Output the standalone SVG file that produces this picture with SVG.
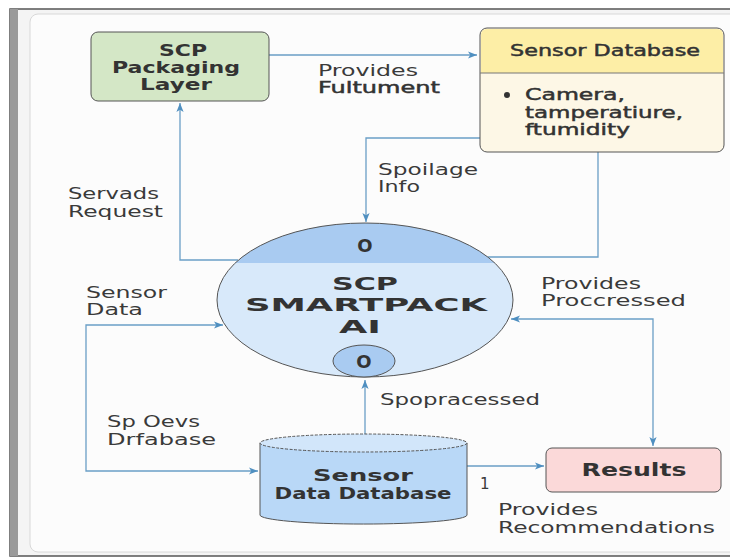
<svg xmlns="http://www.w3.org/2000/svg" width="730" height="560" viewBox="0 0 730 560">
<defs>
<style>
.lbl{font-family:"DejaVu Sans","Open Sans",sans-serif;font-size:15px;fill:#3a3a3a}
.sb{font-family:"DejaVu Sans","Open Sans",sans-serif;font-size:15px;fill:#333;stroke:#333;stroke-width:0.45}
.b{font-family:"DejaVu Sans","Open Sans",sans-serif;font-weight:bold;fill:#333}
.conn{fill:none;stroke:#6a9ec6;stroke-width:1.3}
.node{stroke:#555;stroke-width:1}
</style>
<marker id="ah" viewBox="0 0 10 10" refX="10" refY="5" markerWidth="9" markerHeight="9" markerUnits="userSpaceOnUse" orient="auto-start-reverse">
<path d="M0,1 L10,5 L0,9 L2.5,5 Z" fill="#4f8fc0"/>
</marker>
<clipPath id="ec"><ellipse cx="365" cy="300" rx="148" ry="77"/></clipPath>
</defs>

<!-- frame -->
<rect x="0" y="0" width="730" height="560" fill="#ffffff"/>
<rect x="10" y="9" width="730" height="547" fill="#f4f4f4" stroke="#555" stroke-width="1.5"/>
<rect x="10" y="9" width="8" height="547" fill="#9a9a9a"/>
<rect x="30" y="14" width="720" height="538" rx="8" fill="#fcfcfc" stroke="#d8d8d8" stroke-width="1"/>

<g id="connectors">
<path class="conn" d="M269,55 H477" marker-end="url(#ah)"/>
<path class="conn" d="M480,138 H366 V222" marker-end="url(#ah)"/>
<path class="conn" d="M598,152 V257 H488"/>
<path class="conn" d="M238,260 H180 V103" marker-end="url(#ah)"/>
<path class="conn" d="M223,325 H86 V471 H258" marker-start="url(#ah)" marker-end="url(#ah)"/>
<path class="conn" d="M365,435 V380" marker-end="url(#ah)"/>
<path class="conn" d="M467,466 H544" marker-end="url(#ah)"/>
<path class="conn" d="M653,446 V319 H511" marker-start="url(#ah)" marker-end="url(#ah)"/>
</g>

<g id="labels">
<text class="lbl" x="318" y="76" textLength="100" lengthAdjust="spacingAndGlyphs">Provides</text>
<text class="sb" x="318" y="93" textLength="122" lengthAdjust="spacingAndGlyphs">Fultument</text>
<text class="lbl" x="378" y="175" textLength="100" lengthAdjust="spacingAndGlyphs">Spoilage</text>
<text class="lbl" x="378" y="192" textLength="42" lengthAdjust="spacingAndGlyphs">Info</text>
<text class="lbl" x="68" y="199" textLength="91" lengthAdjust="spacingAndGlyphs">Servads</text>
<text class="lbl" x="68" y="217" textLength="95" lengthAdjust="spacingAndGlyphs">Request</text>
<text class="lbl" x="86" y="298" textLength="81" lengthAdjust="spacingAndGlyphs">Sensor</text>
<text class="lbl" x="86" y="315" textLength="57" lengthAdjust="spacingAndGlyphs">Data</text>
<text class="lbl" x="107" y="427" textLength="93" lengthAdjust="spacingAndGlyphs">Sp Oevs</text>
<text class="lbl" x="107" y="445" textLength="109" lengthAdjust="spacingAndGlyphs">Drfabase</text>
<text class="lbl" x="380" y="405" textLength="160" lengthAdjust="spacingAndGlyphs">Spopracessed</text>
<text class="lbl" x="480" y="489">1</text>
<text class="lbl" x="541" y="289" textLength="100" lengthAdjust="spacingAndGlyphs">Provides</text>
<text class="lbl" x="541" y="306" textLength="145" lengthAdjust="spacingAndGlyphs">Proccressed</text>
<text class="lbl" x="498" y="515" textLength="100" lengthAdjust="spacingAndGlyphs">Provides</text>
<text class="lbl" x="498" y="533" textLength="217" lengthAdjust="spacingAndGlyphs">Recommendations</text>
</g>

<g id="packaging">
<rect class="node" x="91" y="32" width="178" height="69" rx="7" fill="#d4e7c6"/>
<text class="b" font-size="15" x="183" y="56" text-anchor="middle" textLength="48" lengthAdjust="spacingAndGlyphs">SCP</text>
<text class="b" font-size="15" x="176" y="73" text-anchor="middle" textLength="128" lengthAdjust="spacingAndGlyphs">Packaging</text>
<text class="b" font-size="15" x="176" y="90" text-anchor="middle" textLength="72" lengthAdjust="spacingAndGlyphs">Layer</text>
</g>

<g id="sensor-database">
<rect class="node" x="480" y="28" width="244" height="124" rx="7" fill="#fdf7e6"/>
<path d="M481,73 V35 Q481,29 487,29 H717 Q723,29 723,35 V73 Z" fill="#fdeea6"/>
<line x1="480" y1="73" x2="724" y2="73" stroke="#777" stroke-width="1"/>
<text class="sb" x="605" y="56" text-anchor="middle" textLength="190" lengthAdjust="spacingAndGlyphs">Sensor Database</text>
<circle cx="507" cy="95" r="3" fill="#333"/>
<text class="sb" x="525" y="100" textLength="100" lengthAdjust="spacingAndGlyphs">Camera,</text>
<text class="sb" x="525" y="118" textLength="158" lengthAdjust="spacingAndGlyphs">tamperatiure,</text>
<text class="sb" x="525" y="135" textLength="105" lengthAdjust="spacingAndGlyphs">ftumidity</text>
</g>

<g id="smartpack-ai">
<ellipse cx="365" cy="300" rx="148" ry="77" fill="#d8e9fa"/>
<rect x="210" y="220" width="310" height="43" fill="#a9cbf1" clip-path="url(#ec)"/>
<ellipse cx="365" cy="300" rx="148" ry="77" fill="none" stroke="#555" stroke-width="1"/>
<text class="b" font-size="18" x="365" y="252" text-anchor="middle">O</text>
<text class="b" font-size="18" x="365" y="290" text-anchor="middle" textLength="66" lengthAdjust="spacingAndGlyphs">SCP</text>
<text class="b" font-size="18" x="366" y="311" text-anchor="middle" textLength="242" lengthAdjust="spacingAndGlyphs">SMARTPACK</text>
<text class="b" font-size="18" x="360" y="333" text-anchor="middle" textLength="42" lengthAdjust="spacingAndGlyphs">AI</text>
<ellipse class="node" cx="364" cy="361" rx="31" ry="16" fill="#a9cbf1"/>
<text class="b" font-size="18" x="364" y="368" text-anchor="middle">O</text>
</g>

<g id="sensor-data-database">
<path class="node" d="M260,443 V515 A103,9 0 0 0 467,515 V443" fill="#b9d8f7"/>
<ellipse class="node" cx="363.5" cy="443" rx="103.5" ry="9" fill="#d2e6fa" stroke-dasharray="3,1.5"/>
<text class="b" font-size="15" x="363" y="481" text-anchor="middle" textLength="100" lengthAdjust="spacingAndGlyphs">Sensor</text>
<text class="b" font-size="15" x="363" y="499" text-anchor="middle" textLength="177" lengthAdjust="spacingAndGlyphs">Data Database</text>
</g>

<g id="results">
<rect class="node" x="546" y="448" width="175" height="44" rx="6" fill="#fbd9d9"/>
<text class="b" font-size="18" x="634" y="476" text-anchor="middle" textLength="105" lengthAdjust="spacingAndGlyphs">Results</text>
</g>
</svg>
